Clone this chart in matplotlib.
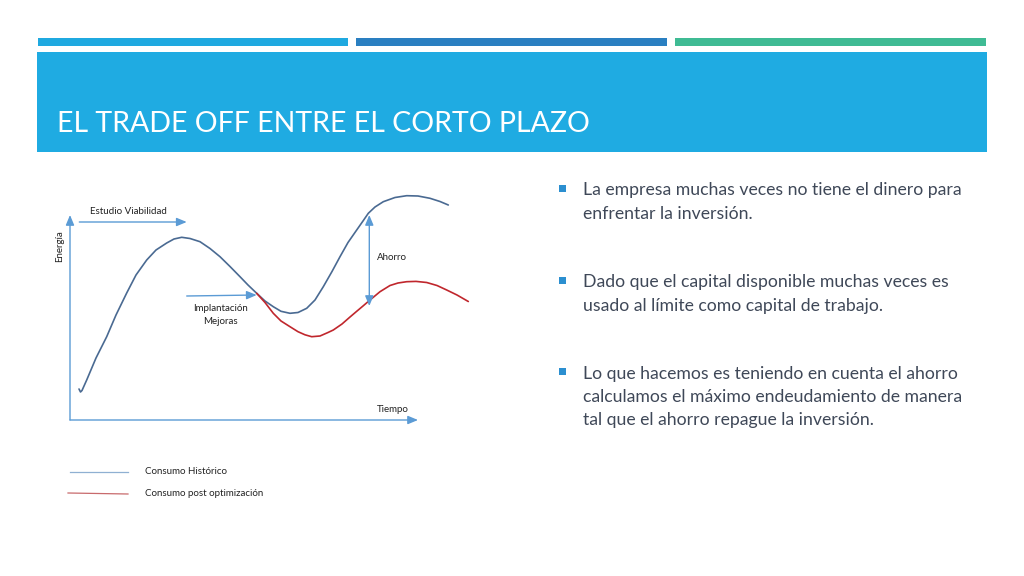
import numpy as np
import matplotlib.pyplot as plt
from matplotlib.patches import Rectangle

plt.rcParams['font.family'] = ['Lato', 'DejaVu Sans']

# slide text
title = "EL TRADE OFF ENTRE EL CORTO PLAZO"
bullets = [
    "La empresa muchas veces no tiene el dinero para\nenfrentar la inversión.",
    "Dado que el capital disponible muchas veces es\nusado al límite como capital de trabajo.",
    "Lo que hacemos es teniendo en cuenta el ahorro\ncalculamos el máximo endeudamiento de manera\ntal que el ahorro repague la inversión.",
]
bullet_y = [190, 282, 373]

# curves (tiempo, energia)
hist_t = [9, 10.5, 12, 16.7, 26, 36.7, 46, 56.7, 66, 76.7, 86, 96.7, 104, 111.7, 120, 130,
          140, 150, 160, 170, 178, 186.7, 195, 203.3, 211, 220, 228, 236.7, 245, 253.3,
          262, 270, 278, 286.7, 293, 298.3, 305, 313.3, 325, 336.7, 348, 360, 370, 378.3]
hist_e = [31, 28, 29.5, 40, 62, 83.3, 105, 127, 145, 160, 170, 177, 181, 182.7, 181.5, 178.3,
          171.5, 163.3, 153.5, 143.3, 135, 126.7, 119, 113.3, 108.7, 106.7, 107.5, 111.7, 120,
          133.3, 148.5, 163.3, 177.5, 190, 199, 206.7, 213, 218.3, 222.5, 224.3, 224, 221.7,
          218.5, 215]
post_t = [186.7, 195, 203.3, 211, 220, 228, 235, 241.7, 250, 258, 263.3, 272, 280, 286.7,
          293, 300, 310, 320, 328, 336.7, 346, 356.7, 367, 376.7, 387, 398.3]
post_e = [126.7, 117.5, 106.7, 99, 93.3, 88.3, 85.2, 83.3, 84, 87.5, 90, 96, 103, 108.7,
          114, 120, 128.3, 134.5, 137, 138.3, 138.6, 137.5, 134.5, 130, 125, 118.5]

legend_labels = ["Consumo Histórico", "Consumo post optimización"]

band_blue = '#1fabe2'
arrow_blue = '#5b9bd5'
hist_color = '#4a6a92'
post_color = '#c0272d'
text_dark = '#3f4858'

fig = plt.figure(figsize=(10.24, 5.76), dpi=100)
bg = fig.add_axes([0, 0, 1, 1])
bg.set_xlim(0, 1024)
bg.set_ylim(576, 0)
bg.axis('off')

# header
for x0, x1, c in [(38, 348, '#1fa9e0'), (356, 667, '#2a7fc1'), (675, 986, '#3fbb94')]:
    bg.add_patch(Rectangle((x0, 38), x1 - x0, 8, color=c, lw=0))
bg.add_patch(Rectangle((37, 52), 950, 100, color=band_blue, lw=0))
bg.text(57, 124, title, color='white', fontsize=20.5, va='center', ha='left')

# bullets
for txt, y in zip(bullets, bullet_y):
    bg.add_patch(Rectangle((559, y - 5), 7, 7, color='#2b8fd0', lw=0))
    bg.text(583, y - 7.5, txt, color=text_dark, fontsize=12.7, va='top', ha='left',
            linespacing=1.56)

# chart
ax = fig.add_axes([40 / 1024, 1 - 440 / 576, 440 / 1024, 260 / 576])
ax.set_xlim(-30, 410)
ax.set_ylim(-20, 240)
ax.axis('off')

arr = dict(arrowstyle='-|>,head_length=0.6,head_width=0.25', color=arrow_blue, lw=1.0,
           shrinkA=0, shrinkB=0)
arr2 = dict(arrowstyle='<|-|>,head_length=0.6,head_width=0.25', color=arrow_blue, lw=1.0,
            shrinkA=0, shrinkB=0)
ax.annotate('', xy=(0, 205), xytext=(0, 0), arrowprops=arr)
ax.annotate('', xy=(348, 0), xytext=(0, 0), arrowprops=arr)

ax.plot(hist_t, hist_e, color=hist_color, lw=1.2, solid_capstyle='round')
ax.plot(post_t, post_e, color=post_color, lw=1.2, solid_capstyle='round')

ax.annotate('', xy=(116.7, 198), xytext=(9.3, 198), arrowprops=arr)
ax.annotate('', xy=(186.7, 125), xytext=(116.7, 124), arrowprops=arr)
ax.annotate('', xy=(299.3, 114), xytext=(299.3, 205), arrowprops=arr2)

small = dict(fontsize=7, color='#222222')
ax.text(58.5, 208, "Estudio Viabilidad", ha='center', va='center', **small)
ax.text(150, 105, "Implantación\nMejoras", ha='center', va='center', linespacing=1.6, **small)
ax.text(306.7, 162, "Ahorro", ha='left', va='center', **small)
ax.text(307, 11, "Tiempo", ha='left', va='center', **small)
ax.text(-10, 174, "Energía", ha='center', va='center', rotation=90, **small)

# legend
bg.plot([70, 128], [472, 472], color='#8fb0d2', lw=0.9)
bg.plot([68, 128], [493, 494], color='#c86a6c', lw=0.9)
bg.text(145, 472, legend_labels[0], va='center', ha='left', **small)
bg.text(145, 493, legend_labels[1], va='center', ha='left', **small)

fig.savefig('out.png', dpi=100, facecolor='white')
